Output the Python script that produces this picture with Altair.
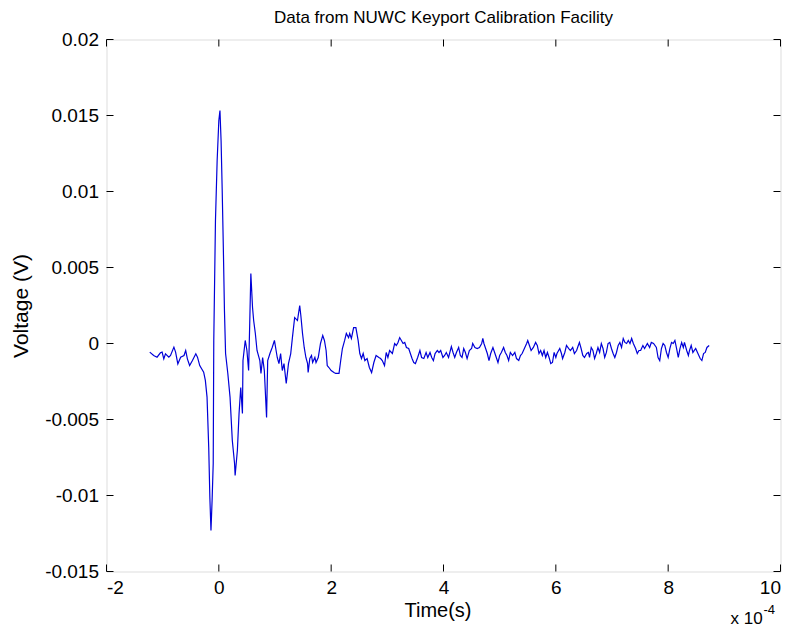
import altair as alt
import pandas as pd

# time in units of 1e-4 s, voltage in mV
time_e4 = [
    -1.23, -1.16, -1.10, -1.04, -1.01, -0.98, -0.95, -0.89, -0.86, -0.80,
    -0.77, -0.73, -0.68, -0.62, -0.59, -0.56, -0.52, -0.47, -0.41, -0.38,
    -0.34, -0.27, -0.24, -0.21, -0.18, -0.16, -0.14, -0.12, -0.10, -0.09,
    -0.06, -0.03, 0.00, 0.02, 0.04, 0.06, 0.08, 0.10, 0.12, 0.16,
    0.20, 0.24, 0.28, 0.29, 0.33, 0.36, 0.39, 0.42, 0.43, 0.47,
    0.50, 0.53, 0.55, 0.57, 0.60, 0.62, 0.65, 0.68, 0.73, 0.75,
    0.78, 0.81, 0.85, 0.87, 0.91, 0.95, 0.99, 1.04, 1.07, 1.10,
    1.13, 1.16, 1.20, 1.24, 1.28, 1.31, 1.35, 1.40, 1.44, 1.46,
    1.49, 1.52, 1.55, 1.58, 1.59, 1.62, 1.65, 1.67, 1.71, 1.73,
    1.77, 1.81, 1.85, 1.88, 1.91, 1.93, 1.96, 2.00, 2.05, 2.08,
    2.14, 2.17, 2.20, 2.24, 2.27, 2.31, 2.33, 2.36, 2.40, 2.44,
    2.48, 2.51, 2.54, 2.57, 2.60, 2.64, 2.68, 2.72, 2.76, 2.80,
    2.85, 2.88, 2.91, 2.95, 2.98, 3.01, 3.04, 3.09, 3.13, 3.16,
    3.19, 3.22, 3.25, 3.28, 3.31, 3.34, 3.38, 3.41, 3.44, 3.47,
    3.50, 3.54, 3.58, 3.61, 3.65, 3.69, 3.72, 3.76, 3.79, 3.82,
    3.85, 3.89, 3.92, 3.95, 3.99, 4.02, 4.05, 4.09, 4.14, 4.17,
    4.20, 4.23, 4.27, 4.30, 4.33, 4.36, 4.39, 4.42, 4.46, 4.50,
    4.52, 4.56, 4.60, 4.64, 4.68, 4.70, 4.72, 4.75, 4.78, 4.81,
    4.84, 4.88, 4.91, 4.94, 4.97, 5.00, 5.03, 5.07, 5.10, 5.13,
    5.16, 5.19, 5.23, 5.27, 5.30, 5.34, 5.37, 5.40, 5.44, 5.48,
    5.50, 5.53, 5.56, 5.60, 5.64, 5.67, 5.70, 5.73, 5.76, 5.79,
    5.82, 5.85, 5.88, 5.91, 5.94, 5.97, 6.00, 6.02, 6.07, 6.10,
    6.12, 6.16, 6.19, 6.23, 6.26, 6.30, 6.33, 6.37, 6.40, 6.42,
    6.45, 6.48, 6.51, 6.55, 6.58, 6.60, 6.63, 6.66, 6.69, 6.72,
    6.75, 6.78, 6.81, 6.84, 6.87, 6.90, 6.93, 6.96, 6.99, 7.02,
    7.05, 7.08, 7.11, 7.14, 7.17, 7.20, 7.23, 7.26, 7.29, 7.32,
    7.35, 7.38, 7.42, 7.45, 7.48, 7.51, 7.55, 7.58, 7.63, 7.67,
    7.70, 7.74, 7.79, 7.82, 7.85, 7.88, 7.91, 7.94, 7.97, 8.00,
    8.03, 8.06, 8.09, 8.12, 8.15, 8.18, 8.21, 8.24, 8.27, 8.29,
    8.33, 8.36, 8.38, 8.41, 8.44, 8.49, 8.53, 8.57, 8.60, 8.63,
    8.66, 8.69, 8.73,
]
voltage_mv = [
    -0.57, -0.79, -0.90, -0.61, -0.57, -1.01, -0.68, -0.90, -0.79, -0.24,
    -0.57, -1.34, -0.90, -0.79, -0.46, -1.01, -1.45, -1.12, -0.68, -0.90,
    -1.45, -1.89, -2.43, -3.53, -6.82, -10.11, -12.30, -10.33, -7.89, 0.20,
    8.09, 12.04, 14.67, 15.33, 13.36, 10.07, 6.32, 2.17, -0.66, -1.97,
    -3.55, -6.38, -7.89, -8.68, -7.04, -4.61, -2.89, -4.61, -1.12, 0.20,
    -0.46, -1.78, 1.32, 4.61, 2.37, 1.51, 0.66, -0.46, -1.12, -1.97,
    -0.92, -1.78, -4.87, -1.12, -0.66, -0.26, 0.20, -0.92, -1.32, -0.66,
    -1.78, -1.32, -2.63, -1.32, -0.66, 0.39, 1.71, 1.51, 2.50, 1.84,
    0.66, -0.26, -0.92, -1.32, -1.91, -0.99, -0.79, -1.25, -0.92, -1.25,
    -0.92, 0.00, 0.53, 0.20, -0.46, -1.45, -1.58, -1.78, -1.91, -1.97,
    -1.97, -1.12, -0.33, 0.20, 0.66, 0.39, 0.66, 0.33, 1.05, 1.05,
    0.20, -0.66, -0.99, -0.66, -1.12, -0.99, -1.58, -1.91, -1.25, -0.79,
    -0.92, -0.99, -1.12, -1.45, -0.59, -0.92, -0.46, -0.66, 0.00, -0.13,
    0.07, 0.39, 0.20, 0.00, 0.07, -0.26, -0.33, -0.66, -0.99, -1.25,
    -1.32, -0.92, -0.46, -0.92, -0.99, -0.59, -0.92, -0.59, -0.92, -1.12,
    -0.66, -0.46, -0.59, -0.46, -0.92, -0.79, -0.59, -0.92, -0.20, -0.59,
    -0.92, -0.59, -0.26, -0.79, -0.92, -0.33, -0.59, -0.99, -0.46, -0.33,
    0.00, -0.26, -0.33, -0.26, 0.00, 0.33, 0.00, -0.33, -0.66, -1.12,
    -0.66, -0.26, -0.59, -0.92, -1.25, -0.79, -0.59, -0.26, -0.59, -0.79,
    -1.12, -0.59, -0.79, -0.59, -0.99, -1.12, -0.79, -0.66, -0.33, 0.00,
    0.20, -0.13, -0.46, -0.26, 0.07, -0.13, -0.66, -0.46, -0.79, -0.46,
    -0.92, -0.59, -0.92, -1.32, -1.25, -0.59, -0.92, -0.66, -0.33, -0.66,
    -0.99, -0.59, -0.13, -0.33, -0.46, -0.26, -0.66, -0.46, -0.13, 0.07,
    -0.33, -0.79, -0.92, -0.66, -0.59, -0.92, -0.26, -0.46, -0.99, -0.66,
    -0.26, -0.59, 0.00, -0.33, -0.92, -0.59, 0.00, 0.07, -0.33, -0.66,
    -0.92, -0.59, -0.13, 0.07, -0.26, 0.33, 0.07, 0.00, 0.20, 0.00,
    0.33, 0.00, -0.33, -0.66, -0.46, -0.46, -0.13, -0.33, 0.00, -0.26,
    0.07, 0.00, -0.26, -0.92, -1.12, -0.33, 0.00, -0.13, -0.59, -0.92,
    -0.33, 0.07, 0.00, 0.20, -0.33, -0.92, -0.33, 0.07, -0.26, 0.07,
    -0.46, -0.79, -0.46, -0.13, -0.59, -0.33, -0.66, -0.99, -1.12, -0.66,
    -0.59, -0.26, -0.13,
]
x_ticks = [-2, 0, 2, 4, 6, 8, 10]
y_ticks = [-0.015, -0.01, -0.005, 0, 0.005, 0.01, 0.015, 0.02]

W, H = 674, 532
FONT = "Liberation Sans"

df = pd.DataFrame({"t": time_e4, "v": [m / 1000 for m in voltage_mv]})
xt = pd.DataFrame({"t": x_ticks})
yt = pd.DataFrame({"v": y_ticks})

xscale = alt.Scale(domain=[-2, 10], nice=False, zero=False)
yscale = alt.Scale(domain=[-0.015, 0.02], nice=False, zero=False)

lbl = "replace(format(datum.value, '.3~f'), '\u2212', '-')"

line = alt.Chart(df).mark_line(color="#0000d8", strokeWidth=1.2).encode(
    x=alt.X("t:Q", scale=xscale,
            axis=alt.Axis(values=x_ticks, title="Time(s)", grid=False, ticks=False,
                          domain=False, labelExpr=lbl, labelPadding=7,
                          labelFontSize=19, titleFontSize=20, titleFontWeight="normal",
                          titlePadding=3, titleX=331, titleAlign="center",
                          labelColor="black", titleColor="black",
                          labelFont=FONT, titleFont=FONT)),
    y=alt.Y("v:Q", scale=yscale,
            axis=alt.Axis(values=y_ticks, title="Voltage (V)", grid=False, ticks=False,
                          domain=False, labelExpr=lbl, labelPadding=8,
                          labelFontSize=19, titleFontSize=21, titleFontWeight="normal",
                          titlePadding=13, labelColor="black", titleColor="black",
                          labelFont=FONT, titleFont=FONT)),
)

tk = 7
xt_bottom = alt.Chart(xt).mark_rule(color="black").encode(
    x=alt.X("t:Q", scale=xscale), y=alt.value(H), y2=alt.value(H - tk))
xt_top = alt.Chart(xt).mark_rule(color="black").encode(
    x=alt.X("t:Q", scale=xscale), y=alt.value(0), y2=alt.value(tk))
yt_left = alt.Chart(yt).mark_rule(color="black").encode(
    y=alt.Y("v:Q", scale=yscale), x=alt.value(0), x2=alt.value(tk))
yt_right = alt.Chart(yt).mark_rule(color="black").encode(
    y=alt.Y("v:Q", scale=yscale), x=alt.value(W), x2=alt.value(W - tk))

exp_base = alt.Chart(pd.DataFrame({"s": ["x 10"]})).mark_text(
    font=FONT, fontSize=17, align="left", baseline="alphabetic", color="black"
).encode(text="s:N", x=alt.value(624), y=alt.value(584))
exp_sup = alt.Chart(pd.DataFrame({"s": ["-4"]})).mark_text(
    font=FONT, fontSize=13, align="left", baseline="alphabetic", color="black"
).encode(text="s:N", x=alt.value(657), y=alt.value(574))

chart = alt.layer(line, xt_bottom, xt_top, yt_left, yt_right, exp_base, exp_sup).properties(
    width=W, height=H,
    title=alt.TitleParams("Data from NUWC Keyport Calibration Facility", font=FONT,
                          fontSize=17, fontWeight="normal", color="black", offset=4,
                          frame="group"),
    autosize=alt.AutoSizeParams(type="none"),
    padding={"left": 98.5, "top": 31.5, "right": 5.5, "bottom": 56.5},
).configure_view(stroke="black", strokeWidth=1).configure(background="white")

chart.save("out.html", embed_options={"renderer": "svg", "actions": False})
